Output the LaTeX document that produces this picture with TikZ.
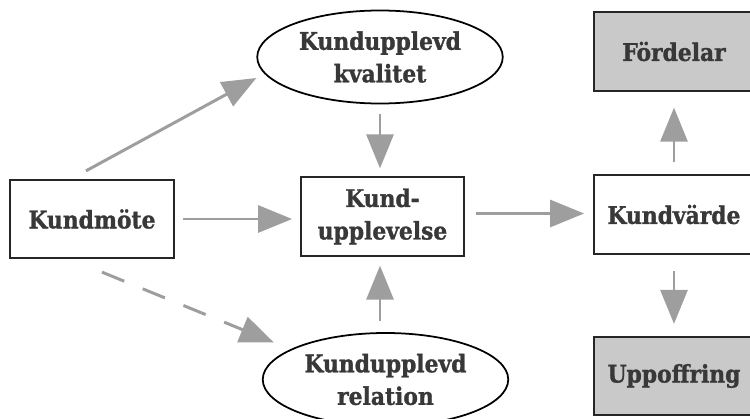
\documentclass[tikz,border=0pt]{standalone}
\usepackage{fontspec}
\setmainfont[BoldFeatures={FakeBold=1.2}]{DejaVu Serif Condensed}
\usepackage{tikz}
\usetikzlibrary{arrows.meta,shapes,positioning,calc}
\usepackage{xcolor}
\definecolor{arrgray}{gray}{0.62}
\definecolor{boxgray}{gray}{0.79}
\definecolor{txtgray}{gray}{0.22}

\begin{document}
\begin{tikzpicture}[
    every node/.style={font=\fontsize{13.8}{18.5}\selectfont\bfseries, text=txtgray, align=center},
    box/.style={rectangle, draw=black!85, line width=1pt, minimum width=3.26cm, minimum height=1.57cm},
    graybox/.style={box, fill=boxgray, minimum width=3.2cm},
    oval/.style={ellipse, draw=black, line width=1pt, minimum width=4.9cm, minimum height=1.86cm},
    arr/.style={draw=arrgray, line width=1.7pt, -{Triangle[length=0.68cm,width=0.54cm]}},
    dasharr/.style={arr, dash pattern=on 0.48cm off 0.4cm}
]
    \useasboundingbox (0, 0) rectangle (15, 8.36);

    % Left and middle
    \node[box, minimum width=3.28cm] (kundmote) at (1.84, 3.98) {Kundmöte};
    \node[box] (upplevelse) at (7.65, 4.03) {Kund-\\upplevelse};
    \node[oval] (kvalitet) at (7.6, 7.22) {Kundupplevd\\kvalitet};
    \node[oval] (relation) at (7.71, 0.77) {Kundupplevd\\relation};

    % Right column
    \node[box, minimum width=3.2cm] (kundvarde) at (13.48, 4.07) {Kundvärde};
    \node[graybox] (fordelar) at (13.48, 7.33) {Fördelar};
    \node[graybox] (uppoffring) at (13.48, 0.84) {Uppoffring};

    % Arrows
    \draw[arr] ([shift={(-0.12,0.16)}]kundmote.north) -- ([yshift=-0.42cm]kvalitet.west);
    \draw[arr, shorten <=0.16cm, shorten >=0.16cm] (kundmote.east) -- (upplevelse.west |- kundmote.east);
    \draw[dasharr] ([shift={(0.2,-0.26)}]kundmote.south) -- ([shift={(0.24,0.74)}]relation.west);
    \draw[arr, shorten <=0.2cm, shorten >=0.16cm] (kvalitet.south) -- (kvalitet.south |- upplevelse.north);
    \draw[arr, shorten <=0.22cm, shorten >=0.18cm] (relation.north -| kvalitet.south) -- (kvalitet.south |- upplevelse.south);
    \draw[arr, shorten <=0.22cm, shorten >=0.18cm] ([yshift=0.06cm]upplevelse.east) -- ([yshift=0.06cm]upplevelse.east -| kundvarde.west);
    \draw[arr, shorten <=0.24cm, shorten >=0.32cm] (kundvarde.north) -- (fordelar.south);
    \draw[arr, shorten <=0.32cm, shorten >=0.24cm] (kundvarde.south) -- (uppoffring.north);
\end{tikzpicture}
\end{document}
